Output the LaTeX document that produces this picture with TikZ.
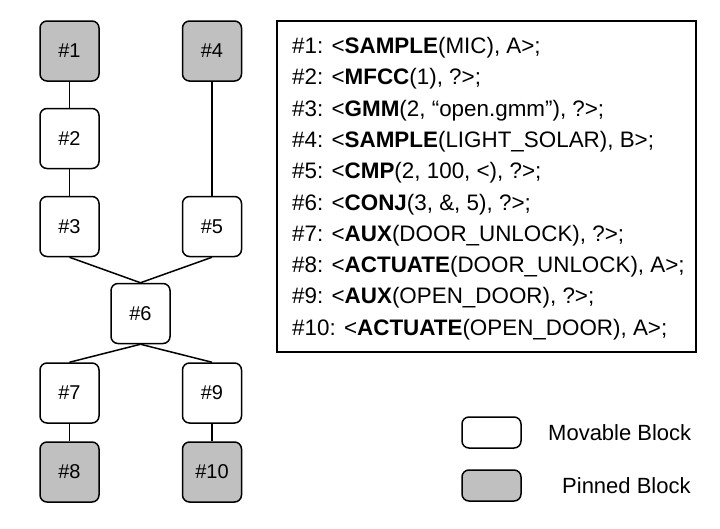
\documentclass[tikz,border=0pt]{standalone}
\usepackage{fontspec}
\setmainfont{Liberation Sans}
\definecolor{pinfill}{RGB}{192,192,192}
\begin{document}
\begin{tikzpicture}[x=1pt,y=-1pt,
  blk/.style={draw=black,line width=1.5pt,rounded corners=7pt,minimum width=59pt,minimum height=60pt,inner sep=0pt,font=\fontsize{20}{24}\selectfont,fill=white},
  pin/.style={blk,fill=pinfill},
  leg/.style={draw=black,line width=1.5pt,rounded corners=7pt,minimum width=59pt,minimum height=31pt,inner sep=0pt},
  edge/.style={line width=1.5pt},
  code/.style={anchor=base west,inner sep=0pt,font=\fontsize{22.4}{26}\selectfont}]
\useasboundingbox (0,0) rectangle (720,528);
\node[pin] (n1) at (69.5,51) {\#1};
\node[blk] (n2) at (69.5,138.5) {\#2};
\node[blk] (n3) at (69.5,226.5) {\#3};
\node[pin] (n4) at (212,51) {\#4};
\node[blk] (n5) at (212,226.5) {\#5};
\node[blk] (n6) at (140.5,313.5) {\#6};
\node[blk] (n7) at (69.5,393) {\#7};
\node[blk] (n9) at (212,393) {\#9};
\node[pin] (n8) at (69.5,472) {\#8};
\node[pin] (n10) at (212,472) {\#10};
\draw[edge] (n1) -- (n2);
\draw[edge] (n2) -- (n3);
\draw[edge] (n4) -- (n5);
\draw[edge] (n3.south) -- (n6.north);
\draw[edge] (n5.south) -- (n6.north);
\draw[edge] (n6.south) -- (n7.north);
\draw[edge] (n6.south) -- (n9.north);
\draw[edge] (n7) -- (n8);
\draw[edge] (n9) -- (n10);
\node[draw=black,line width=1.5pt,minimum width=419pt,minimum height=331pt,inner sep=0pt] (box) at (486.5,186.5) {};
\node[code] (t1) at (292,53.5) {\#1: <\textbf{SAMPLE}(MIC), A>;};
\node[code] (t2) at (292,84.8) {\#2: <\textbf{MFCC}(1), ?>;};
\node[code] (t3) at (292,116.1) {\#3: <\textbf{GMM}(2, “open.gmm”), ?>;};
\node[code] (t4) at (292,147.4) {\#4: <\textbf{SAMPLE}(LIGHT\_SOLAR), B>;};
\node[code] (t5) at (292,178.7) {\#5: <\textbf{CMP}(2, 100, <), ?>;};
\node[code] (t6) at (292,210.0) {\#6: <\textbf{CONJ}(3, \&, 5), ?>;};
\node[code] (t7) at (292,241.3) {\#7: <\textbf{AUX}(DOOR\_UNLOCK), ?>;};
\node[code] (t8) at (292,272.6) {\#8: <\textbf{ACTUATE}(DOOR\_UNLOCK), A>;};
\node[code] (t9) at (292,303.9) {\#9: <\textbf{AUX}(OPEN\_DOOR), ?>;};
\node[code] (t10) at (292,335.2) {\#10: <\textbf{ACTUATE}(OPEN\_DOOR), A>;};
\node[leg,fill=white] (lm) at (491.5,432.5) {};
\node[leg,fill=pinfill] (lp) at (491.5,485.5) {};
\node[anchor=west,inner sep=0pt,font=\fontsize{22}{26}\selectfont] (lmt) at (548,433) {Movable Block};
\node[anchor=west,inner sep=0pt,font=\fontsize{22}{26}\selectfont] (lpt) at (562,486) {Pinned Block};
\end{tikzpicture}
\end{document}
